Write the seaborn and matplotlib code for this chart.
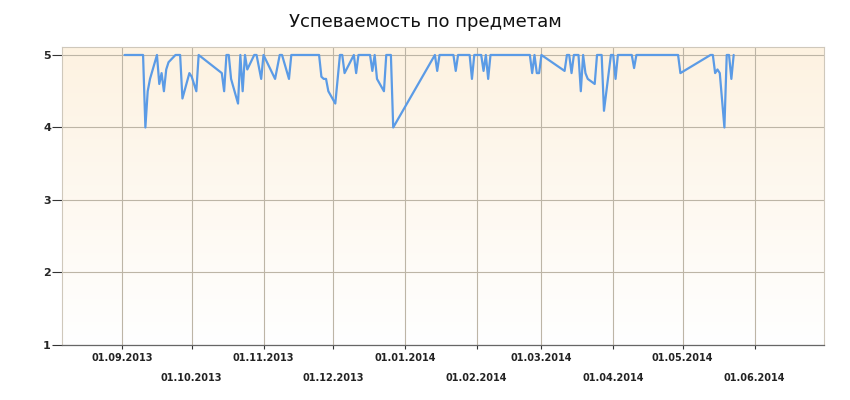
import numpy as np
import pandas as pd
import matplotlib
matplotlib.use("Agg")
import matplotlib.pyplot as plt
import seaborn as sns
from matplotlib.colors import LinearSegmentedColormap

# average grade per school day
dates = [
    "2013-09-02", "2013-09-10", "2013-09-11", "2013-09-12", "2013-09-13",
    "2013-09-16", "2013-09-17", "2013-09-18", "2013-09-19", "2013-09-20",
    "2013-09-21", "2013-09-24", "2013-09-26", "2013-09-27", "2013-09-30",
    "2013-10-01", "2013-10-03", "2013-10-04", "2013-10-14", "2013-10-15",
    "2013-10-16", "2013-10-17", "2013-10-18", "2013-10-21", "2013-10-22",
    "2013-10-23", "2013-10-24", "2013-10-25", "2013-10-28", "2013-10-29",
    "2013-10-31", "2013-11-01", "2013-11-06", "2013-11-08", "2013-11-09",
    "2013-11-12", "2013-11-13", "2013-11-25", "2013-11-26", "2013-11-27",
    "2013-11-28", "2013-11-29", "2013-12-02", "2013-12-04", "2013-12-05",
    "2013-12-06", "2013-12-10", "2013-12-11", "2013-12-12", "2013-12-17",
    "2013-12-18", "2013-12-19", "2013-12-20", "2013-12-23", "2013-12-24",
    "2013-12-26", "2013-12-27", "2014-01-14", "2014-01-15", "2014-01-16",
    "2014-01-22", "2014-01-23", "2014-01-24", "2014-01-29", "2014-01-30",
    "2014-01-31", "2014-02-03", "2014-02-04", "2014-02-05", "2014-02-06",
    "2014-02-07", "2014-02-24", "2014-02-25", "2014-02-26", "2014-02-27",
    "2014-02-28", "2014-03-01", "2014-03-11", "2014-03-12", "2014-03-13",
    "2014-03-14", "2014-03-15", "2014-03-17", "2014-03-18", "2014-03-19",
    "2014-03-20", "2014-03-21", "2014-03-24", "2014-03-25", "2014-03-27",
    "2014-03-28", "2014-03-31", "2014-04-01", "2014-04-02", "2014-04-03",
    "2014-04-09", "2014-04-10", "2014-04-11", "2014-04-29", "2014-04-30",
    "2014-05-13", "2014-05-14", "2014-05-15", "2014-05-16", "2014-05-17",
    "2014-05-19", "2014-05-20", "2014-05-21", "2014-05-22", "2014-05-23",
]
grades = [
    5.0, 5.0, 4.0, 4.5, 4.67,
    5.0, 4.6, 4.75, 4.5, 4.8,
    4.9, 5.0, 5.0, 4.4, 4.75,
    4.7, 4.5, 5.0, 4.75, 4.5,
    5.0, 5.0, 4.67, 4.33, 5.0,
    4.5, 5.0, 4.8, 5.0, 5.0,
    4.67, 5.0, 4.67, 5.0, 5.0,
    4.67, 5.0, 5.0, 4.7, 4.67,
    4.67, 4.5, 4.33, 5.0, 5.0,
    4.75, 5.0, 4.75, 5.0, 5.0,
    4.78, 5.0, 4.67, 4.5, 5.0,
    5.0, 4.0, 5.0, 4.78, 5.0,
    5.0, 4.78, 5.0, 5.0, 4.67,
    5.0, 5.0, 4.78, 5.0, 4.67,
    5.0, 5.0, 4.75, 5.0, 4.75,
    4.75, 5.0, 4.78, 5.0, 5.0,
    4.75, 5.0, 5.0, 4.5, 5.0,
    4.75, 4.67, 4.6, 5.0, 5.0,
    4.23, 5.0, 5.0, 4.67, 5.0,
    5.0, 4.82, 5.0, 5.0, 4.75,
    5.0, 5.0, 4.75, 4.8, 4.75,
    4.0, 5.0, 5.0, 4.67, 5.0,
]
month_ticks = [
    "2013-09-01", "2013-10-01", "2013-11-01", "2013-12-01", "2014-01-01",
    "2014-02-01", "2014-03-01", "2014-04-01", "2014-05-01", "2014-06-01",
]
y_ticks = [1, 2, 3, 4, 5]

df = pd.DataFrame({"date": pd.to_datetime(dates), "grade": grades})
tick_dates = pd.to_datetime(month_ticks)

sns.set_style("white")
plt.rcParams["font.family"] = ["DejaVu Sans"]

fig = plt.figure(figsize=(8.5, 4), dpi=100)
ax = fig.add_axes([62 / 850, 55 / 400, 762 / 850, 298 / 400])

# cream-to-white background
cmap = LinearSegmentedColormap.from_list("bg", ["#ffffff", "#fdf2e1"])
grad = np.linspace(0, 1, 256).reshape(-1, 1)
ax.imshow(grad, extent=[0, 1, 0, 1], transform=ax.transAxes, cmap=cmap,
          aspect="auto", origin="lower", zorder=0)

sns.lineplot(data=df, x="date", y="grade", color="#5b9be6", linewidth=1.6,
             ax=ax, zorder=3)

ax.set_xlim(pd.Timestamp("2013-08-06"), pd.Timestamp("2014-07-01"))
ax.set_ylim(1, 5.11)
ax.set_yticks(y_ticks)
ax.set_yticklabels([str(v) for v in y_ticks], fontsize=8, fontweight="bold")
ax.set_xticks(tick_dates)
ax.set_xticklabels([d.strftime("%d.%m.%Y") for d in tick_dates],
                   fontsize=7, fontweight="bold", color="#222222")
for i, t in enumerate(ax.xaxis.get_major_ticks()):
    t.set_pad(2.5 if i % 2 == 0 else 17)

ax.grid(True, color="#bdb5a6", linewidth=0.8, zorder=1)
ax.set_axisbelow(True)
ax.tick_params(axis="x", bottom=True, direction="out", length=3, width=0.8,
               color="#333333")
ax.tick_params(axis="y", left=True, direction="out", length=7, width=0.8,
               color="#333333", pad=1)
for side in ["top", "right", "left"]:
    ax.spines[side].set_color("#cfc8bb")
    ax.spines[side].set_linewidth(0.8)
ax.spines["bottom"].set_color("#666666")
ax.spines["bottom"].set_linewidth(0.9)
ax.set_xlabel("")
ax.set_ylabel("")

fig.suptitle("Успеваемость по предметам", x=0.5, y=0.968, fontsize=13,
             color="#111111")

plt.savefig("out.png", dpi=100)
